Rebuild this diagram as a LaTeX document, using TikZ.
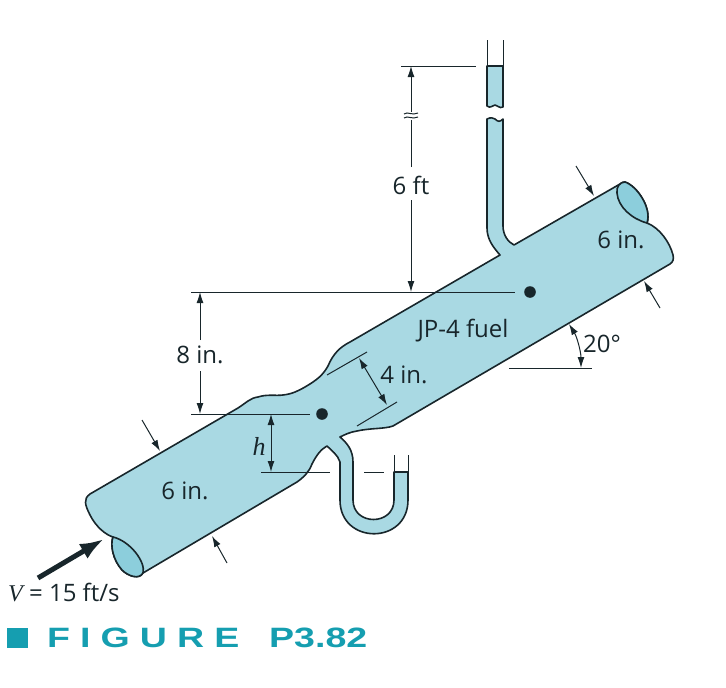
\documentclass[tikz,border=0pt]{standalone}
\usepackage{fontspec}
\setsansfont{Open Sans}
\newfontfamily\varfont{Liberation Serif}
\newfontfamily\capfont[FakeStretch=1.34,LetterSpace=0]{Liberation Sans Bold}
\newfontfamily\capwide[FakeStretch=1.34,LetterSpace=36]{Liberation Sans Bold}
\usetikzlibrary{arrows.meta, positioning}
\definecolor{fuel}{HTML}{A9D9E3}
\definecolor{pipeend}{HTML}{8CCEDC}
\definecolor{teal}{HTML}{159EB0}
\definecolor{ink}{HTML}{18262B}
\tikzset{
pipeline/.style={draw=ink,line width=1.6pt,line join=round},
dimline/.style={draw=ink,line width=1pt},
dimarrow/.style={dimline,{Latex[length=11pt,width=7pt]}-{Latex[length=11pt,width=7pt]}},
leader/.style={dimline,-{Latex[length=11pt,width=7pt]}},
label/.style={text=ink,inner sep=0pt,font=\sffamily\fontsize{24}{26}\selectfont}
}
\newcommand{\tapdot}[1]{\fill[ink] #1 circle (5.8);}
\begin{document}
\begin{tikzpicture}[x=1pt,y=-1pt]
	\useasboundingbox (0,0) rectangle (726,688);
	\filldraw[pipeline,fill=fuel] (90,494) -- (238,408) .. controls (246,403) and (250,398) .. (258,397)
	.. controls (267,394) and (276,396) .. (283,395) .. controls (292,394) and (298,391) .. (305,387)
	.. controls (317,380) and (323,375) .. (328,366) .. controls (333,354) and (340,347) .. (350,342)
	-- (500,255) .. controls (494,248) and (487,240) .. (487,228) -- (487,119)
	.. controls (491,117) and (493,118) .. (495,119) .. controls (498,122) and (500,122) .. (503,119)
	-- (503,226) .. controls (503,235) and (508,242) .. (514,245) -- (620,184)
	.. controls (622,182) and (624,182) .. (625,182) .. controls (637,186) and (652,208) .. (647,223)
	.. controls (660,228) and (670,243) .. (673,255)
	.. controls (674,259) and (673,262) .. (670,264)
	-- (393,426) .. controls (385,429) and (370,428) .. (357,431) .. controls (350,432) and (344,435) .. (340,437)
	.. controls (347,443) and (353,450) .. (353,462) -- (353,500) .. controls (353,526) and (394,526) .. (394,500)
	-- (394,472) -- (408,472) -- (408,500) .. controls (408,545) and (340,545) .. (340,500)
	-- (340,462) .. controls (338,455) and (331,450) .. (327,446) .. controls (321,449) and (316,456) .. (312,464)
	.. controls (309,472) and (304,477) .. (297,482)
	-- (143,573) .. controls (139,580) and (128,576) .. (122,570)
	.. controls (113,560) and (110,545) .. (113,537) .. controls (106,535) and (96,527) .. (90,515)
	.. controls (85,505) and (83,499) .. (90,494) -- cycle;
	\filldraw[pipeline,fill=pipeend] (113,537) .. controls (130,541) and (146,562) .. (143,573)
	.. controls (139,580) and (128,576) .. (122,570) .. controls (113,560) and (110,545) .. (113,537) -- cycle;
	\filldraw[pipeline,fill=pipeend] (625,182) .. controls (637,186) and (652,208) .. (647,223)
	.. controls (632,219) and (618,207) .. (617,193) .. controls (616,187) and (620,182) .. (625,182) -- cycle;
	\filldraw[pipeline,fill=fuel] (487,66) -- (503,66) -- (503,107) .. controls (499,109) and (498,105) .. (495,105)
	.. controls (492,105) and (491,109) .. (487,106) -- cycle;
	\draw[dimline] (487,40) -- (487,66) (503,40) -- (503,66);
	\draw[dimline] (394,455) -- (394,472) (408,455) -- (408,472);
	\tapdot{(530,292)}
	\tapdot{(322,414)}
	\coordinate (topA) at (401,66);
	\coordinate (topB) at (476,66);
	\draw[dimline] (topA) -- (topB);
	\coordinate (upA) at (191,292);
	\coordinate (upB) at (515,292);
	\draw[dimline] (upA) -- (upB);
	\coordinate (lowA) at (191,414);
	\coordinate (lowB) at (310,414);
	\draw[dimline] (lowA) -- (lowB);
	\draw[dimline] (261,472) -- (330,472) (364,472) -- (384,472);
	\node[label] (six ft) at (411,185) {6 ft};
	\node[label] (eight in) at (200,355) {8 in.};
	\node[label] (four in) at (404,375) {4 in.};
	\node[label] (fuel) at (463,331) {JP-4 fuel};
	\node[label] (pipe low) at (185,491) {6 in.};
	\node[label] (pipe high) at (621,240) {6 in.};
	\node[label] (angle) at (602,344) {20°};
	\node[label,font=\varfont\itshape\fontsize{26}{28}\selectfont] (head) at (259,446) {h};
	\node[label,anchor=west] (speed) at (8,592) {{\varfont\itshape V} = 15 ft/s};
	\draw[leader] (411,112) -- (411,66);
	\draw[leader] (411,200) -- (411,292);
	\draw[dimline] (411,167) -- (411,120);
	\draw[dimline] (404,114) .. controls (408,111) and (412,116) .. (418,113);
	\draw[dimline] (404,118) .. controls (408,115) and (412,120) .. (418,117);
	\draw[leader] (200,340) -- (200,292);
	\draw[leader] (200,371) -- (200,414);
	\draw[dimarrow] (271,414) -- (271,472);
	\draw[dimline] (327,375) -- (367,352) (357,426) -- (397,402);
	\draw[dimarrow] (359,358) -- (387,405);
	\draw[dimline] (509,368) -- (592,368);
	\draw[dimarrow] (569,324) .. controls (577,337) and (581,352) .. (581,368);
	\draw[leader] (142,420) -- (160,451);
	\draw[leader] (227,563) -- (212,536);
	\draw[leader] (576,166) -- (594,196);
	\draw[leader] (660,308) -- (644,281);
	\draw[ink,line width=5pt,-{Latex[length=24pt,width=17pt]}] (38,578) -- (104,539);
	\fill[teal] (7,628) rectangle (28,648);
	\node[text=teal,inner sep=0pt,anchor=west,font=\capwide\fontsize{28}{30}\selectfont] (caption) at (47,638) {FIGURE};
	\node[text=teal,inner sep=0pt,anchor=west,font=\capfont\fontsize{28}{30}\selectfont] (number) at (269,638) {P3.82};
\end{tikzpicture}
\end{document}
